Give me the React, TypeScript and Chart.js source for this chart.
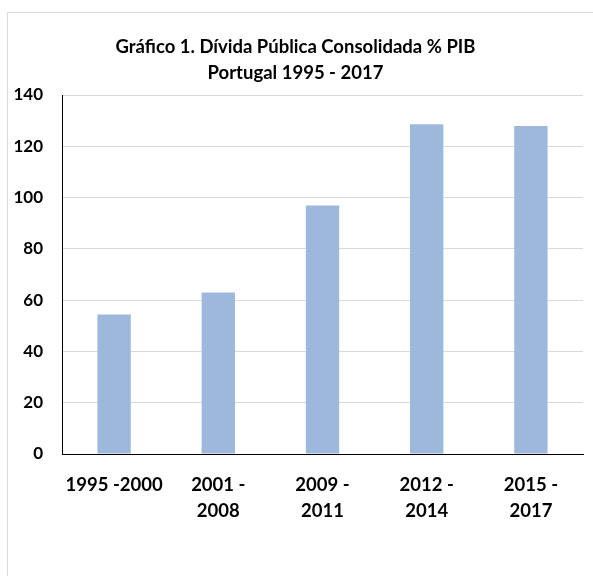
import React, { useEffect, useRef } from "react";
import { Chart, registerables } from "chart.js";

Chart.register(...registerables);

const categories: string[][] = [
  ["1995 -2000"],
  ["2001 -", "2008"],
  ["2009 -", "2011"],
  ["2012 -", "2014"],
  ["2015 -", "2017"],
];
const debtValues: number[] = [54.4, 63.0, 96.9, 128.6, 127.9];
const titleLines: string[] = ["Gráfico 1. Dívida Pública Consolidada % PIB", "Portugal 1995 - 2017"];
const yMin = 0;
const yMax = 140;
const yStep = 20;

export default function App() {
  const canvasRef = useRef<HTMLCanvasElement | null>(null);

  useEffect(() => {
    if (!canvasRef.current) return;
    const chart = new Chart(canvasRef.current, {
      type: "bar",
      data: {
        labels: categories,
        datasets: [
          {
            data: debtValues,
            backgroundColor: "#9DB8DB",
            borderWidth: 0,
            barPercentage: 0.32,
            categoryPercentage: 1,
          },
        ],
      },
      options: {
        animation: false,
        responsive: true,
        maintainAspectRatio: false,
        layout: { padding: { left: 0, right: 10, top: 0, bottom: 0 } },
        plugins: {
          legend: { display: false },
          tooltip: { enabled: false },
          title: {
            display: true,
            text: titleLines,
            color: "#000",
            font: { family: "Lato", size: 18.5, weight: "bold", lineHeight: "26px" },
            padding: { top: 21, bottom: 9 },
          },
        },
        scales: {
          x: {
            grid: { display: false, drawTicks: false },
            border: { display: true, color: "#000", width: 1 },
            ticks: {
              color: "#000",
              font: { family: "Lato", size: 18.5, weight: "bold", lineHeight: "26px" },
              padding: 18,
              maxRotation: 0,
              autoSkip: false,
            },
            afterFit: (scale: any) => {
              scale.height = 122;
            },
          },
          y: {
            min: yMin,
            max: yMax,
            grid: { color: "#D9D9D9", lineWidth: 1, drawTicks: false },
            border: { display: true, color: "#000", width: 1 },
            ticks: {
              stepSize: yStep,
              color: "#000",
              font: { family: "Lato", size: 17, weight: "bold" },
              padding: 19,
            },
            afterFit: (scale: any) => {
              scale.width = 54;
            },
          },
        },
      },
    });
    return () => chart.destroy();
  }, []);

  return (
    <div
      style={{
        position: "fixed",
        left: 7,
        top: 12,
        width: 586,
        height: 564,
        borderLeft: "1px solid #D9D9D9",
        borderTop: "1px solid #D9D9D9",
        background: "#fff",
      }}
    >
      <div style={{ position: "relative", width: 585, height: 563 }}>
        <canvas ref={canvasRef} />
      </div>
    </div>
  );
}
